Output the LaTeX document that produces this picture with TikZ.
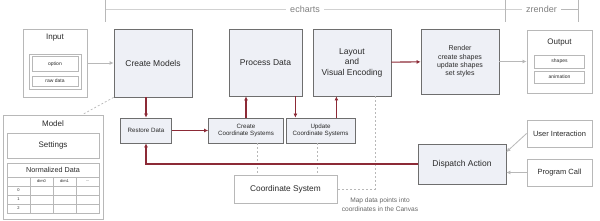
\documentclass[tikz,border=0pt]{standalone}
\usepackage{fontspec}
\setmainfont{Liberation Sans}
\usetikzlibrary{arrows.meta}
\definecolor{boxfill}{HTML}{EEF0F6}
\definecolor{boxline}{HTML}{6E6E6E}
\definecolor{flowred}{HTML}{8C2A36}
\definecolor{lightline}{HTML}{B8B8B8}
\definecolor{textgray}{HTML}{2A2A2A}
\begin{document}
\begin{tikzpicture}[x=1pt, y=-1pt, inner sep=0pt, text=textgray,
  stage/.style={draw=boxline, fill=boxfill, line width=0.8pt, align=center,
    font=\fontsize{8.5}{10.5}\selectfont},
  substage/.style={stage, font=\fontsize{6.2}{7.4}\selectfont},
  frame/.style={draw=lightline, fill=white, line width=0.9pt, align=center,
    font=\fontsize{7.5}{9}\selectfont},
  slot/.style={draw=lightline, fill=white, line width=0.5pt,
    font=\fontsize{5}{6}\selectfont},
  title/.style={font=\fontsize{8}{9}\selectfont},
  redflow/.style={draw=flowred, line width=1.1pt, -{Latex[length=4pt,width=4pt]}},
  grayflow/.style={draw=lightline, line width=0.8pt, -{Latex[length=4pt,width=4pt]}},
  dashline/.style={draw=lightline, line width=0.7pt, dash pattern=on 2pt off 2pt},
  bracket/.style={draw=lightline, line width=0.7pt}]
\useasboundingbox (0,0) rectangle (600,221);

\coordinate (echartsleft) at (105,0);
\coordinate (echartsright) at (505,0);
\coordinate (zrenderright) at (578,0);
\draw[bracket] (echartsleft) -- ++(0,22) (echartsright) -- ++(0,22) (zrenderright) -- ++(0,22);
\draw[bracket] ([yshift=-9pt]echartsleft) -- node[fill=white, inner xsep=4pt, title, font=\fontsize{9}{10}\selectfont, text=gray] {echarts} ([yshift=-9pt]echartsright)
  -- node[fill=white, inner xsep=4pt, title, font=\fontsize{9}{10}\selectfont, text=gray] {zrender} ([yshift=-9pt]zrenderright);

\node[frame, minimum width=64pt, minimum height=68pt] (input) at (55,63) {};
\node[title] (inputtitle) at (55,38) {Input};
\node[slot, minimum width=52pt, minimum height=35pt] (inputlist) at (55,71.5) {};
\node[slot, minimum width=46pt, minimum height=15pt] (option) at (55,64) {option};
\node[slot, minimum width=46pt, minimum height=10pt] (rawdata) at (55,81) {raw data};

\node[stage, minimum width=78pt, minimum height=68pt] (create) at (153,63) {Create Models};
\node[stage, minimum width=73pt, minimum height=67pt] (process) at (265.5,62.5) {Process Data};
\node[stage, minimum width=78pt, minimum height=67pt] (layout) at (352,62.5) {Layout\\and\\Visual Encoding};
\node[stage, minimum width=78pt, minimum height=65pt, font=\fontsize{7}{8.4}\selectfont] (render) at (460,61.5)
  {Render\\create shapes\\update shapes\\set styles};

\node[frame, minimum width=65pt, minimum height=63pt] (output) at (559.5,61.5) {};
\node[title] (outputtitle) at (559.5,43) {Output};
\node[slot, minimum width=50pt, minimum height=13pt] (shapes) at (559.5,61.5) {shapes};
\node[slot, minimum width=50pt, minimum height=12pt] (animation) at (559.5,77) {animation};

\node[frame, minimum width=100pt, minimum height=104pt] (model) at (53,167) {};
\node[title] (modeltitle) at (53,124) {Model};
\node[frame, minimum width=92pt, minimum height=25pt, font=\fontsize{8}{9}\selectfont] (settings) at (53,145.5) {Settings};
\draw[lightline, line width=0.7pt] (7,163) rectangle (99,213) (7,177) -- (99,177);
\foreach \y in {186,195,204} \draw[lightline, line width=0.5pt] (7,\y) -- (99,\y);
\foreach \x in {30,53,76} \draw[lightline, line width=0.5pt] (\x,177) -- (\x,213);
\node[font=\fontsize{7.2}{8}\selectfont] (normalized) at (53,170) {Normalized Data};
\node[font=\fontsize{4}{5}\selectfont] (dimzero) at (41.5,181.5) {dim0};
\node[font=\fontsize{4}{5}\selectfont] (dimone) at (64.5,181.5) {dim1};
\node[font=\fontsize{4}{5}\selectfont] (dimmore) at (87.5,181.5) {...};
\node[font=\fontsize{4}{5}\selectfont] (rowzero) at (18.5,190.5) {0};
\node[font=\fontsize{4}{5}\selectfont] (rowone) at (18.5,199.5) {1};
\node[font=\fontsize{4}{5}\selectfont] (rowtwo) at (18.5,208.5) {2};

\node[substage, minimum width=51pt, minimum height=25pt] (restore) at (146,130.5) {Restore Data};
\node[substage, minimum width=75pt, minimum height=25pt] (createcs) at (246,130.5) {Create\\Coordinate Systems};
\node[substage, minimum width=69pt, minimum height=25pt] (updatecs) at (320.5,130.5) {Update\\Coordinate Systems};
\node[frame, minimum width=103pt, minimum height=28pt, font=\fontsize{8.3}{10}\selectfont] (coordsys) at (285.5,189) {Coordinate System};
\node[align=center, font=\fontsize{6.6}{9}\selectfont, text=gray!80!black] (maptext) at (380,205)
  {Map data points into\\coordinates in the Canvas};

\node[stage, minimum width=88pt, minimum height=40pt] (dispatch) at (462,164) {Dispatch Action};
\node[frame, minimum width=65pt, minimum height=27pt] (userinput) at (559.5,133.5) {User Interaction};
\node[frame, minimum width=65pt, minimum height=27pt] (programcall) at (559.5,172.5) {Program Call};

\draw[grayflow] (input) -- (create);
\draw[redflow] (layout) -- (render);
\draw[grayflow] (render) -- (output);
\draw[dashline] (create.south west) -- ([xshift=-21pt]model.north east);

\coordinate (createdown) at (restore.north |- create.south);
\draw[redflow] (createdown) -- (restore.north);
\draw[redflow] (restore) -- (createcs);
\draw[redflow] (createcs.north) -- (createcs.north |- process.south);
\coordinate (processdown) at ([xshift=-7pt]process.south east);
\draw[redflow] (processdown) -- (processdown |- updatecs.north);
\coordinate (updateup) at ([xshift=-19pt]updatecs.north east);
\draw[redflow] (updateup) -- (updateup |- layout.south);

\coordinate (createcsout) at ([xshift=11pt]createcs.south);
\coordinate (updatecsout) at ([xshift=-3.5pt]updatecs.south);
\coordinate (layoutout) at ([xshift=-16pt]layout.south east);
\draw[dashline] (createcsout) -- (createcsout |- coordsys.north);
\draw[dashline] (updatecsout) -- (updatecsout |- coordsys.north);
\draw[dashline] (layoutout) |- (coordsys.east);

\draw[redflow] (dispatch.west) -| (restore.south);
\draw[grayflow] (userinput.west) -- ([yshift=12pt]dispatch.east);
\draw[grayflow] (programcall.west) -- (programcall.west -| dispatch.east);
\end{tikzpicture}
\end{document}
